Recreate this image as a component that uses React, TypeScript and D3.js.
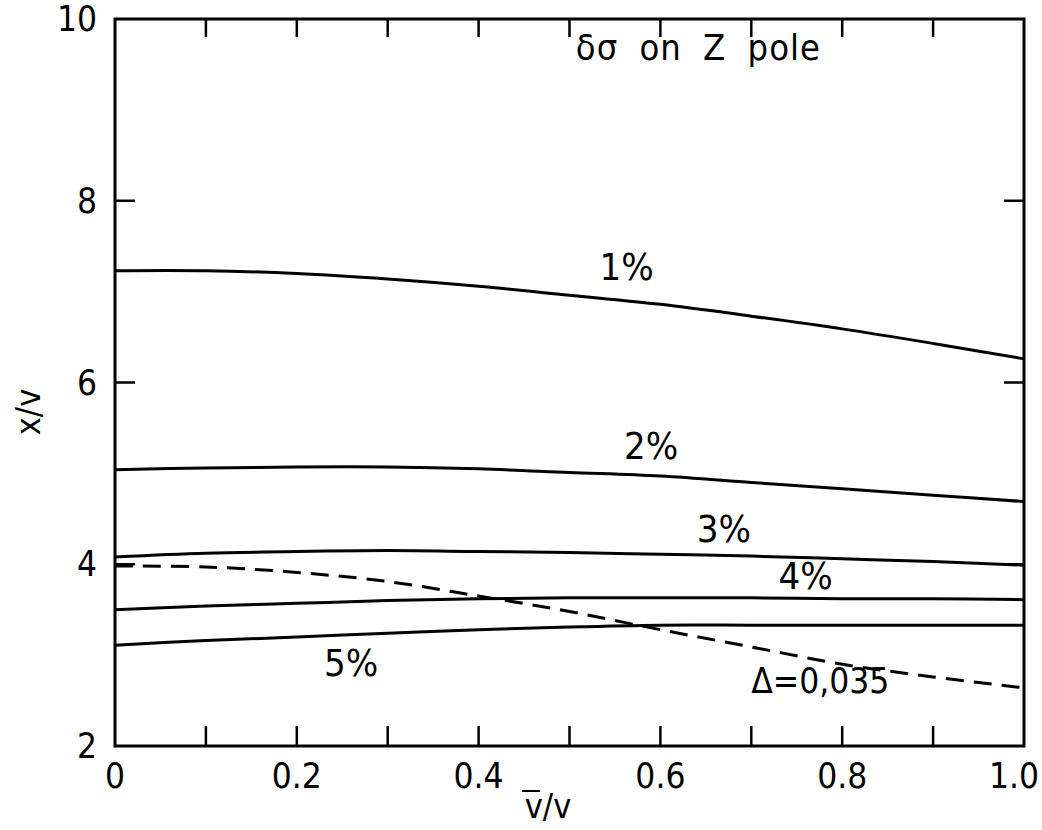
import React from 'react';
import * as d3 from 'd3';

// x = vbar / v, y = x / v
const vRatio = [0, 0.1, 0.2, 0.3, 0.4, 0.5, 0.6, 0.7, 0.8, 0.9, 1.0];
const curve1 = [7.23, 7.23, 7.2, 7.14, 7.06, 6.96, 6.86, 6.73, 6.59, 6.43, 6.26];
const curve2 = [5.04, 5.06, 5.07, 5.07, 5.05, 5.01, 4.97, 4.9, 4.83, 4.76, 4.69];
const curve3 = [4.08, 4.12, 4.14, 4.15, 4.14, 4.13, 4.11, 4.09, 4.06, 4.03, 3.99];
const curve4 = [3.5, 3.54, 3.57, 3.6, 3.62, 3.63, 3.63, 3.63, 3.62, 3.62, 3.61];
const curve5 = [3.11, 3.16, 3.2, 3.24, 3.28, 3.31, 3.33, 3.33, 3.33, 3.33, 3.33];
const deltaCurve = [3.98, 3.97, 3.91, 3.81, 3.65, 3.48, 3.28, 3.09, 2.9, 2.76, 2.64];

const xTickLabels = ['0', '0.2', '0.4', '0.6', '0.8', '1.0'];
const yTickLabels = ['2', '4', '6', '8', '10'];

const font = '"DejaVu Sans Condensed", "DejaVu Sans", sans-serif';

export default function App() {
  const width = 1042;
  const height = 830;
  const left = 115;
  const right = 1024;
  const top = 19;
  const bottom = 746;

  const x = d3.scaleLinear().domain([0, 1]).range([left, right]);
  const y = d3.scaleLinear().domain([2, 10]).range([bottom, top]);

  const line = d3.line<number>()
    .x((d, i) => x(vRatio[i]))
    .y(d => y(d))
    .curve(d3.curveCatmullRom.alpha(0.5));

  const solid = [curve1, curve2, curve3, curve4, curve5];
  const minorX = d3.range(1, 10).map(i => i / 10);
  const majorY = [4, 6, 8];

  const tickLen = 20;

  return (
    <svg width={width} height={height} style={{ position: 'absolute', left: 0, top: 0, background: '#fff' }}>
      <g fill='none' stroke='#000' strokeWidth={3}>
        {/* curves */}
        {solid.map((c, i) => (
          <path key={i} d={line(c) || ''} />
        ))}
        <path d={line(deltaCurve) || ''} strokeDasharray='18 10' />

        {/* frame */}
        <rect x={left} y={top} width={right - left} height={bottom - top} />

        {/* ticks */}
        {minorX.map(v => (
          <g key={v}>
            <line x1={x(v)} x2={x(v)} y1={bottom} y2={bottom - tickLen} strokeWidth={2.5} />
            <line x1={x(v)} x2={x(v)} y1={top} y2={top + tickLen - 2} strokeWidth={2.5} />
          </g>
        ))}
        {majorY.map(v => (
          <g key={v}>
            <line x1={left} x2={left + tickLen} y1={y(v)} y2={y(v)} strokeWidth={2.5} />
            <line x1={right} x2={right - tickLen} y1={y(v)} y2={y(v)} strokeWidth={2.5} />
          </g>
        ))}
      </g>

      {/* tick labels */}
      <g fontFamily={font} fontSize={35} fill='#000'>
        {xTickLabels.map(t => (
          <text key={t} x={t === '1.0' ? x(1) - 10 : x(+t)} y={bottom + 42} textAnchor='middle'>{t}</text>
        ))}
        {yTickLabels.map(t => (
          <text key={t} x={97} y={y(+t) + 12} textAnchor='end'>{t}</text>
        ))}
      </g>

      {/* axis titles */}
      <g fontFamily={font} fontSize={34} fill='#000'>
        <text transform={`translate(40, 412) rotate(-90)`} textAnchor='middle'>x/v</text>
        <text x={548} y={818} textAnchor='middle'>v/v</text>
        <line x1={522} x2={540} y1={791} y2={791} stroke='#000' strokeWidth={2} />
      </g>

      {/* curve labels */}
      <g fontFamily={font} fontSize={38} fill='#000'>
        <text x={x(0.533)} y={y(7.13)}>1%</text>
        <text x={x(0.56)} y={y(5.16)}>2%</text>
        <text x={x(0.64)} y={y(4.25)}>3%</text>
        <text x={x(0.73)} y={y(3.73)}>4%</text>
        <text x={x(0.23)} y={y(2.77)}>5%</text>
        <text x={x(0.7)} y={y(2.58)} fontSize={35}>Δ=0,035</text>
        <text x={x(0.507)} y={y(9.55)} fontSize={36} wordSpacing={10} letterSpacing={1}>δσ on Z pole</text>
      </g>
    </svg>
  );
}
